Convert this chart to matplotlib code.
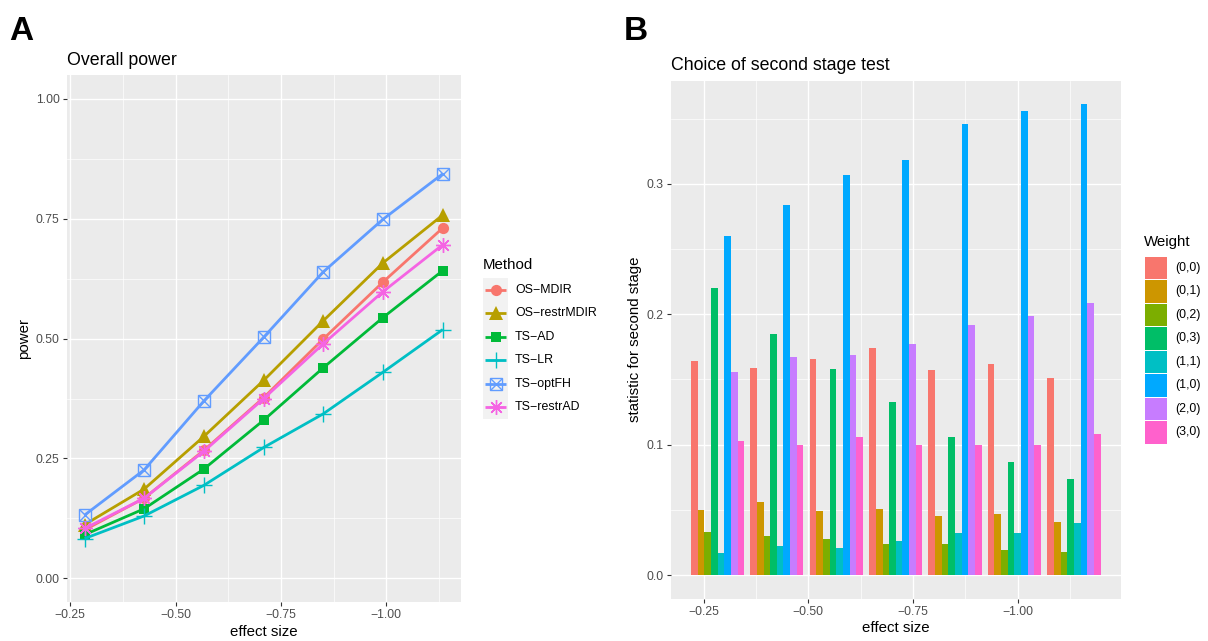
import matplotlib
matplotlib.use("Agg")
import matplotlib.pyplot as plt
from matplotlib.patches import Rectangle
import numpy as np

plt.rcParams['font.family'] = ['Liberation Sans', 'DejaVu Sans']

# ---------------- data ----------------
effect = [-0.284, -0.425, -0.567, -0.709, -0.850, -0.992, -1.134]

methods = ["OS\u2212MDIR", "OS\u2212restrMDIR", "TS\u2212AD", "TS\u2212LR", "TS\u2212optFH", "TS\u2212restrAD"]
os_mdir      = [0.101, 0.167, 0.267, 0.377, 0.499, 0.618, 0.731]
os_restrmdir = [0.112, 0.186, 0.296, 0.413, 0.537, 0.658, 0.758]
ts_ad        = [0.091, 0.145, 0.228, 0.330, 0.439, 0.544, 0.642]
ts_lr        = [0.083, 0.130, 0.194, 0.273, 0.343, 0.430, 0.519]
ts_optfh     = [0.132, 0.226, 0.370, 0.503, 0.639, 0.749, 0.844]
ts_restrad   = [0.104, 0.167, 0.265, 0.375, 0.489, 0.598, 0.696]
power = [os_mdir, os_restrmdir, ts_ad, ts_lr, ts_optfh, ts_restrad]

weights = ["(0,0)", "(0,1)", "(0,2)", "(0,3)", "(1,1)", "(1,0)", "(2,0)", "(3,0)"]
w00 = [0.164, 0.159, 0.166, 0.174, 0.157, 0.162, 0.151]
w01 = [0.050, 0.056, 0.049, 0.051, 0.045, 0.047, 0.041]
w02 = [0.033, 0.030, 0.028, 0.024, 0.024, 0.019, 0.018]
w03 = [0.220, 0.185, 0.158, 0.133, 0.106, 0.087, 0.074]
w11 = [0.017, 0.022, 0.021, 0.026, 0.032, 0.032, 0.040]
w10 = [0.260, 0.284, 0.307, 0.318, 0.346, 0.356, 0.361]
w20 = [0.156, 0.167, 0.169, 0.177, 0.192, 0.199, 0.209]
w30 = [0.103, 0.100, 0.106, 0.100, 0.100, 0.100, 0.108]
stat = [w00, w01, w02, w03, w11, w10, w20, w30]

# ---------------- styles ----------------
meth_colors = ["#F8766D", "#B79F00", "#00BA38", "#00BFC4", "#619CFF", "#F564E3"]
wt_colors = ["#F8766D", "#CD9600", "#7CAE00", "#00BE67", "#00BFC4", "#00A9FF", "#C77CFF", "#FF61CC"]
PANEL = "#EBEBEB"
TICKC = "#4D4D4D"
TICKFS = 8.8
AXFS = 10.8
TITLEFS = 12.8
LEGFS = 8.9
MS = 8.5

W, H = 1208, 641
fig = plt.figure(figsize=(W / 100, H / 100), dpi=100)


def px_axes(l, t, r, b):
    return fig.add_axes([l / W, 1 - b / H, (r - l) / W, (b - t) / H])


def style_axes(ax):
    ax.set_facecolor(PANEL)
    for s in ax.spines.values():
        s.set_visible(False)
    ax.grid(True, which='major', color='white', linewidth=1.0)
    ax.grid(True, which='minor', color='white', linewidth=0.5)
    ax.set_axisbelow(True)
    ax.tick_params(which='major', length=2.9, width=0.8, color='#333333',
                   labelsize=TICKFS, labelcolor=TICKC, pad=2.2)
    ax.tick_params(which='minor', length=0)


def draw_markers(ax, x, y, idx, color, size):
    if idx == 0:
        ax.plot(x, y, 'o', color=color, ms=size * 0.95, mew=0)
    elif idx == 1:
        ax.plot(x, y, '^', color=color, ms=size * 1.15, mew=0)
    elif idx == 2:
        ax.plot(x, y, 's', color=color, ms=size * 0.85, mew=0)
    elif idx == 3:
        ax.plot(x, y, '+', color=color, ms=size * 1.3, mew=1.0)
    elif idx == 4:
        ax.plot(x, y, 's', color=color, ms=size * 0.95, mfc='none', mew=1.0)
        ax.plot(x, y, 'x', color=color, ms=size * 0.95, mew=1.0)
    elif idx == 5:
        ax.plot(x, y, marker=(8, 2, 0), ls='none', color=color, ms=size * 1.25, mew=1.0)


# ---------------- panel A ----------------
axA = px_axes(66.7, 75, 460.7, 602.3)
style_axes(axA)
for i, (vals, c) in enumerate(zip(power, meth_colors)):
    axA.plot(effect, vals, '-', color=c, lw=2.0, solid_capstyle='butt')
    draw_markers(axA, effect, vals, i, c, MS)
axA.set_xlim(-0.2415, -1.1765)
axA.set_ylim(-0.05, 1.05)
axA.set_xticks([-0.25, -0.5, -0.75, -1.0])
axA.set_xticklabels(["\u22120.25", "\u22120.50", "\u22120.75", "\u22121.00"])
axA.set_xticks([-0.375, -0.625, -0.875, -1.125], minor=True)
axA.set_yticks([0, 0.25, 0.5, 0.75, 1.0])
axA.set_yticklabels(["0.00", "0.25", "0.50", "0.75", "1.00"])
axA.set_yticks([0.125, 0.375, 0.625, 0.875], minor=True)
axA.set_xlabel("effect size", fontsize=AXFS, labelpad=2.5)
axA.set_ylabel("power", fontsize=AXFS, labelpad=3)
axA.set_title("Overall power", loc='left', fontsize=TITLEFS, pad=7.5)

# ---------------- panel B ----------------
axB = px_axes(670.7, 80.7, 1121, 598.7)
style_axes(axB)
spacing = abs(effect[1] - effect[0])
bw = 0.9 * spacing / len(weights)
ex = np.array(effect)
for j, (vals, c) in enumerate(zip(stat, wt_colors)):
    xpos = ex - (j - 3.5) * bw
    axB.bar(xpos, vals, width=bw, color=c, linewidth=0)
ymax = max(max(v) for v in stat)
axB.set_ylim(-0.05 * ymax, 1.05 * ymax)
lo = ex[0] + 4 * bw
hi = ex[-1] - 4 * bw
rng = lo - hi
axB.set_xlim(lo + 0.05 * rng, hi - 0.05 * rng)
axB.set_xticks([-0.25, -0.5, -0.75, -1.0])
axB.set_xticklabels(["\u22120.25", "\u22120.50", "\u22120.75", "\u22121.00"])
axB.set_xticks([-0.375, -0.625, -0.875, -1.125], minor=True)
axB.set_yticks([0, 0.1, 0.2, 0.3])
axB.set_yticklabels(["0.0", "0.1", "0.2", "0.3"])
axB.set_yticks([0.05, 0.15, 0.25, 0.35], minor=True)
axB.set_xlabel("effect size", fontsize=AXFS, labelpad=2.5)
axB.set_ylabel("statistic for second stage", fontsize=AXFS, labelpad=3)
axB.set_title("Choice of second stage test", loc='left', fontsize=TITLEFS, pad=8)

# ---------------- overlay for legends / panel letters ----------------
ov = fig.add_axes([0, 0, 1, 1])
ov.set_xlim(0, W)
ov.set_ylim(H, 0)
ov.axis('off')
ov.patch.set_alpha(0)

ov.text(9, 39.5, "A", fontsize=24, fontweight='bold', va='baseline', ha='left')
ov.text(624, 39.5, "B", fontsize=24, fontweight='bold', va='baseline', ha='left')

# Method legend
ov.text(483, 265, "Method", fontsize=AXFS, va='center', ha='left')
row0 = 290
pitch = 23.4
ov.add_patch(Rectangle((483, row0 - pitch / 2), 25, pitch * 6, facecolor='#F2F2F2', edgecolor='none'))
for i, (m, c) in enumerate(zip(methods, meth_colors)):
    y = row0 + i * pitch
    ov.plot([485, 506], [y, y], '-', color=c, lw=2.0, solid_capstyle='butt')
    draw_markers(ov, [495.5], [y], i, c, MS)
    ov.text(515, y, m, fontsize=LEGFS, va='center', ha='left')

# Weight legend
ov.text(1144, 242, "Weight", fontsize=AXFS, va='center', ha='left')
k0 = 256
kp = 23.5
for j, (wname, c) in enumerate(zip(weights, wt_colors)):
    top = k0 + j * kp
    ov.add_patch(Rectangle((1145, top + 0.5), 21.7, kp - 1.0, facecolor=c, edgecolor='none'))
    ov.text(1175, top + kp / 2, wname, fontsize=LEGFS, va='center', ha='left')

fig.savefig("out.png", dpi=100)
